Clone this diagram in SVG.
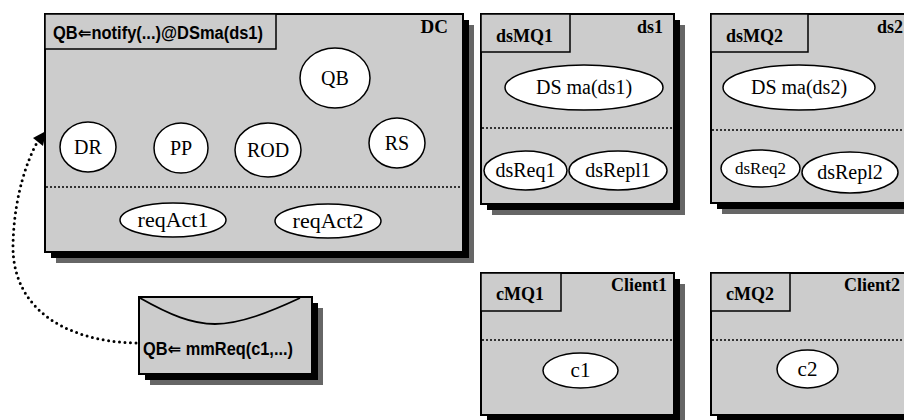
<svg xmlns="http://www.w3.org/2000/svg" width="904" height="420" viewBox="0 0 904 420">
  <defs>
    <style>
      .box { fill: #cccccc; stroke: #000; stroke-width: 2; }
      .tab { fill: #cccccc; stroke: #000; stroke-width: 1.5; }
      .sh1 { fill: #000; }
      .sh2 { fill: #666666; }
      .sep { stroke: #000; stroke-width: 1.6; stroke-dasharray: 2 2; fill: none; }
      .el { fill: #fff; stroke: #000; stroke-width: 1.5; }
      .lbl { font-family: "Liberation Serif", "Times New Roman", serif; font-size: 20px; fill: #000; text-anchor: middle; }
      .ttl { font-family: "Liberation Serif", "Times New Roman", serif; font-size: 18px; font-weight: bold; fill: #000; }
      .msg { font-family: "Liberation Sans", Arial, "DejaVu Sans", sans-serif; font-size: 18px; font-weight: bold; fill: #000; }
      .flow { fill: none; stroke: #000; stroke-width: 3; stroke-linecap: round; stroke-dasharray: 0 5.5; }
    </style>
  </defs>

  <!-- DC container -->
  <g id="dc">
    <rect class="sh2" x="56" y="25" width="418" height="238"/>
    <rect class="sh1" x="51" y="20" width="418" height="238"/>
    <rect class="box" x="45" y="14" width="418" height="238"/>
    <rect class="tab" x="45" y="14" width="231" height="35"/>
    <text class="msg" x="53" y="39" textLength="210" lengthAdjust="spacingAndGlyphs">QB⇐notify(...)@DSma(ds1)</text>
    <text class="ttl" x="448" y="33" text-anchor="end" style="font-size:19px">DC</text>
    <line class="sep" x1="46" y1="187" x2="462" y2="187"/>
    <g id="qb"><ellipse class="el" cx="335" cy="78" rx="35" ry="30"/><text class="lbl" x="335" y="85">QB</text></g>
    <g id="dr"><ellipse class="el" cx="88" cy="147" rx="28" ry="25"/><text class="lbl" x="88" y="154">DR</text></g>
    <g id="pp"><ellipse class="el" cx="181" cy="148" rx="27" ry="25"/><text class="lbl" x="181" y="155">PP</text></g>
    <g id="rod"><ellipse class="el" cx="268" cy="150" rx="33" ry="27"/><text class="lbl" x="268" y="157">ROD</text></g>
    <g id="rs"><ellipse class="el" cx="397" cy="143" rx="28" ry="25"/><text class="lbl" x="397" y="150">RS</text></g>
    <g id="reqAct1"><ellipse class="el" cx="173" cy="220" rx="53" ry="17"/><text class="lbl" x="173" y="227" style="font-size:22px">reqAct1</text></g>
    <g id="reqAct2"><ellipse class="el" cx="328" cy="221" rx="53" ry="17"/><text class="lbl" x="328" y="228" style="font-size:22px">reqAct2</text></g>
  </g>

  <!-- ds1 container -->
  <g id="ds1">
    <rect class="sh2" x="492" y="25" width="193" height="190"/>
    <rect class="sh1" x="487" y="20" width="193" height="190"/>
    <rect class="box" x="481" y="14" width="193" height="190"/>
    <rect class="tab" x="481" y="14" width="89" height="38"/>
    <text class="ttl" x="496" y="42">dsMQ1</text>
    <text class="ttl" x="663" y="33" text-anchor="end">ds1</text>
    <line class="sep" x1="482" y1="128" x2="673" y2="128"/>
    <g id="dsma1"><ellipse class="el" cx="584" cy="87.5" rx="79" ry="22.5"/><text class="lbl" x="584" y="94">DS ma(ds1)</text></g>
    <g id="dsReq1"><ellipse class="el" cx="525.5" cy="170.5" rx="41.5" ry="19.5"/><text class="lbl" x="525.5" y="177">dsReq1</text></g>
    <g id="dsRepl1"><ellipse class="el" cx="618" cy="170.5" rx="49" ry="19.5"/><text class="lbl" x="618" y="177">dsRepl1</text></g>
  </g>

  <!-- ds2 container -->
  <g id="ds2">
    <rect class="sh2" x="722" y="25" width="200" height="189"/>
    <rect class="sh1" x="717" y="20" width="200" height="189"/>
    <rect class="box" x="711" y="14" width="200" height="189"/>
    <rect class="tab" x="711" y="14" width="97" height="38"/>
    <text class="ttl" x="726" y="42">dsMQ2</text>
    <text class="ttl" x="903" y="33" text-anchor="end">ds2</text>
    <line class="sep" x1="712" y1="130" x2="904" y2="130"/>
    <g id="dsma2"><ellipse class="el" cx="799" cy="87.5" rx="76" ry="22.5"/><text class="lbl" x="799" y="94">DS ma(ds2)</text></g>
    <g id="dsReq2"><ellipse class="el" cx="760.5" cy="168.5" rx="39.5" ry="18.5"/><text class="lbl" x="760.5" y="174" style="font-size:17px">dsReq2</text></g>
    <g id="dsRepl2"><ellipse class="el" cx="850" cy="172.5" rx="48" ry="20.5"/><text class="lbl" x="850" y="179">dsRepl2</text></g>
  </g>

  <!-- Client1 container -->
  <g id="client1">
    <rect class="sh2" x="492" y="284" width="193" height="142"/>
    <rect class="sh1" x="487" y="279" width="193" height="142"/>
    <rect class="box" x="481" y="273" width="193" height="142"/>
    <rect class="tab" x="481" y="273" width="80" height="38"/>
    <text class="ttl" x="496" y="300">cMQ1</text>
    <text class="ttl" x="667" y="291" text-anchor="end">Client1</text>
    <line class="sep" x1="482" y1="340" x2="673" y2="340"/>
    <g id="c1"><ellipse class="el" cx="580.5" cy="370.5" rx="37.5" ry="17.5"/><text class="lbl" x="580.5" y="377" style="font-size:21px">c1</text></g>
  </g>

  <!-- Client2 container -->
  <g id="client2">
    <rect class="sh2" x="722" y="284" width="200" height="142"/>
    <rect class="sh1" x="717" y="279" width="200" height="142"/>
    <rect class="box" x="711" y="273" width="200" height="142"/>
    <rect class="tab" x="711" y="273" width="79" height="38"/>
    <text class="ttl" x="726" y="300">cMQ2</text>
    <text class="ttl" x="900" y="291" text-anchor="end">Client2</text>
    <line class="sep" x1="712" y1="340" x2="904" y2="340"/>
    <g id="c2"><ellipse class="el" cx="807.5" cy="369" rx="30.5" ry="19"/><text class="lbl" x="807.5" y="376" style="font-size:21px">c2</text></g>
  </g>

  <!-- message envelope -->
  <g id="envelope">
    <rect class="sh2" x="150" y="308" width="173" height="77"/>
    <rect class="sh1" x="145" y="303" width="173" height="77"/>
    <rect class="box" x="139" y="297" width="173" height="77"/>
    <path d="M140,298 C170,315 192,324 215,324 C240,324 270,312 300,298" fill="none" stroke="#000" stroke-width="1.8"/>
    <text class="msg" x="143" y="355" textLength="150" lengthAdjust="spacingAndGlyphs">QB⇐ mmReq(c1,...)</text>
  </g>

  <!-- connectors -->
  <g id="connectors">
    <path class="flow" d="M136,343 C60,341 12,305 13,245 C14,195 28,158 38,141"/>
    <path d="M46,131 L33,138 L43,146 z" fill="#000"/>
  </g>
</svg>
